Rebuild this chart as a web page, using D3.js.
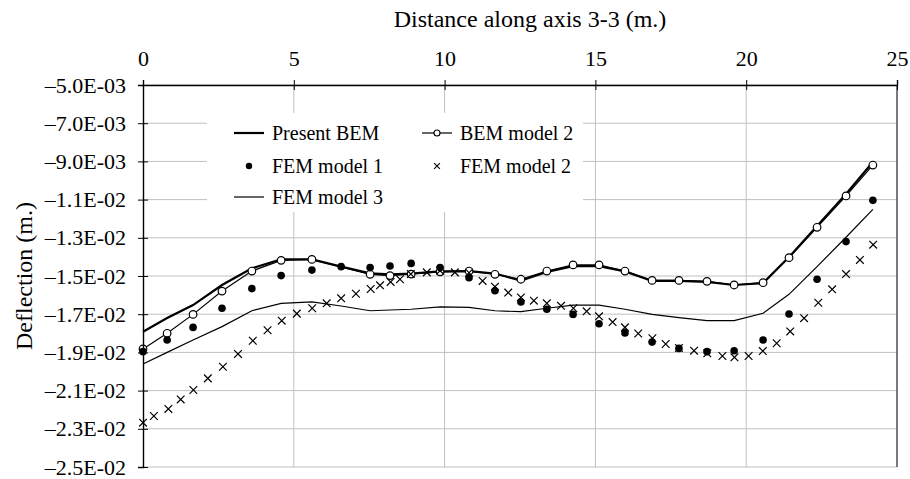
<!DOCTYPE html>
<html>
<head>
<meta charset="utf-8">
<script src="https://cdn.jsdelivr.net/npm/d3@7"></script>
<style>
  body { margin: 0; background: #fff; }
  svg text { font-family: "Liberation Serif", "DejaVu Serif", serif; fill: #000; }
</style>
</head>
<body>
<div id="chart-area"></div>
<script>
// ---- data ----
let xTicks = [0, 5, 10, 15, 20, 25];
let yTicks = [-0.005, -0.007, -0.009, -0.011, -0.013, -0.015, -0.017, -0.019, -0.021, -0.023, -0.025];

// nodes used by BEM / FEM1 / FEM3
let meshX = [0, 0.80, 1.66, 2.62, 3.61, 4.58, 5.60, 6.57, 7.53, 8.19, 8.89, 9.85, 10.81, 11.67, 12.53,
  13.39, 14.26, 15.12, 15.98, 16.88, 17.77, 18.70, 19.60, 20.56, 21.42, 22.35, 23.31, 24.20];

let presentBem = [-0.01792, -0.0172, -0.01652, -0.01547, -0.0146, -0.01413, -0.01413, -0.01451, -0.01486, -0.01492,
  -0.01487, -0.01476, -0.01474, -0.01487, -0.01524, -0.01479, -0.01448, -0.01448, -0.01476, -0.01526,
  -0.01526, -0.01531, -0.01547, -0.01537, -0.01401, -0.01238, -0.01071, -0.00903];

let bemModel2 = [-0.01882, -0.018, -0.01701, -0.01579, -0.01474, -0.01418, -0.01413, null, -0.01491, -0.01498,
  -0.0149, -0.01478, -0.01474, -0.01491, -0.01517, -0.01474, -0.01442, -0.01442, -0.01474, -0.01523,
  -0.01523, -0.01528, -0.01547, -0.01535, -0.01404, -0.01245, -0.01081, -0.00919];

let femModel1 = [-0.01896, -0.01835, -0.01769, -0.01669, -0.01566, -0.01498, -0.01469, -0.01451, -0.01456, -0.01448,
  -0.01434, -0.01456, -0.01509, -0.01577, -0.01636, -0.01674, -0.01701, -0.0175, -0.01798, -0.01846,
  -0.01879, -0.01896, -0.01891, -0.01835, -0.01699, -0.01517, -0.0132, -0.01104];

let femModel3 = [-0.01961, -0.019, -0.01835, -0.01765, -0.01682, -0.01643, -0.01636, -0.01657, -0.01682, -0.01678,
  -0.01674, -0.01662, -0.01664, -0.01682, -0.01687, -0.01669, -0.01652, -0.01653, -0.01674, -0.01701,
  -0.01718, -0.01734, -0.01734, -0.01695, -0.01596, -0.01451, -0.01297, -0.01151];

// FEM model 2 has its own finer mesh
let fem2X = [0, 0.36, 0.84, 1.25, 1.67, 2.15, 2.65, 3.15, 3.64, 4.13, 4.60, 5.10, 5.61, 6.09, 6.57,
  7.06, 7.55, 7.86, 8.21, 8.52, 8.88, 9.41, 9.85, 10.34, 10.81, 11.26, 11.67, 12.11, 12.53, 12.96,
  13.39, 13.86, 14.27, 14.71, 15.12, 15.57, 15.98, 16.42, 16.89, 17.33, 17.77, 18.27, 18.71, 19.21, 19.61,
  20.08, 20.55, 21.01, 21.46, 21.92, 22.39, 22.85, 23.31, 23.77, 24.21];
let femModel2 = [-0.02268, -0.02233, -0.02196, -0.02146, -0.02097, -0.02036, -0.01975, -0.01908, -0.01839, -0.01784,
  -0.01734, -0.01697, -0.01669, -0.01643, -0.01617, -0.01593, -0.01568, -0.01549, -0.01531, -0.01517,
  -0.0149, -0.01481, -0.01472, -0.01481, -0.01483, -0.01526, -0.01556, -0.01587, -0.01612, -0.01629,
  -0.01643, -0.01656, -0.01669, -0.01685, -0.01711, -0.01741, -0.01769, -0.01801, -0.01826, -0.01856,
  -0.01877, -0.01891, -0.01905, -0.01919, -0.01926, -0.01919, -0.01893, -0.01852, -0.0179, -0.01721,
  -0.0164, -0.0157, -0.0149, -0.01416, -0.01336];

// ---- canvas ----
let w = 910;
let h = 479;
let gridColor = "#c0c0c0";
let serif = "'Liberation Serif', 'DejaVu Serif', serif";

let svg = d3.select("#chart-area")
  .append("svg")
  .attr("width", w)
  .attr("height", h)
  .attr("font-family", serif);

// scales
let x = d3.scaleLinear().domain([0, 25]).range([143, 897]);
let y = d3.scaleLinear().domain([-0.005, -0.025]).range([85, 467]);

// gridlines
svg.append("g").selectAll("line")
  .data(yTicks)
  .enter().append("line")
  .attr("x1", x(0)).attr("x2", x(25))
  .attr("y1", d => y(d)).attr("y2", d => y(d))
  .attr("stroke", gridColor).attr("stroke-width", 1);

svg.append("g").selectAll("line")
  .data(xTicks.slice(1, -1))
  .enter().append("line")
  .attr("x1", d => x(d)).attr("x2", d => x(d))
  .attr("y1", y(-0.005)).attr("y2", y(-0.025))
  .attr("stroke", gridColor).attr("stroke-width", 1);

// right border of plot area
svg.append("line")
  .attr("x1", x(25)).attr("x2", x(25))
  .attr("y1", y(-0.005)).attr("y2", y(-0.025))
  .attr("stroke", "#333").attr("stroke-width", 1.3);

// ---- series ----
let mesh = (xs, ys) => xs.map((v, i) => ({x: v, y: ys[i]})).filter(d => d.y !== null);

let line = d3.line().x(d => x(d.x)).y(d => y(d.y));

svg.append("path")
  .datum(mesh(meshX, presentBem))
  .attr("d", line)
  .attr("fill", "none").attr("stroke", "#000").attr("stroke-width", 2.2);

svg.append("path")
  .datum(mesh(meshX, bemModel2))
  .attr("d", line)
  .attr("fill", "none").attr("stroke", "#000").attr("stroke-width", 1.2);

svg.append("g").selectAll("circle")
  .data(mesh(meshX, bemModel2))
  .enter().append("circle")
  .attr("cx", d => x(d.x)).attr("cy", d => y(d.y)).attr("r", 3.8)
  .attr("fill", "#fff").attr("stroke", "#000").attr("stroke-width", 1.2);

svg.append("g").selectAll("circle")
  .data(mesh(meshX, femModel1))
  .enter().append("circle")
  .attr("cx", d => x(d.x)).attr("cy", d => y(d.y)).attr("r", 3.8)
  .attr("fill", "#000");

let cross = d3.symbol().type(d3.symbolX).size(40);
svg.append("g").selectAll("path")
  .data(mesh(fem2X, femModel2))
  .enter().append("path")
  .attr("d", cross)
  .attr("transform", d => "translate(" + x(d.x) + "," + y(d.y) + ")")
  .attr("fill", "none").attr("stroke", "#000").attr("stroke-width", 1.2);

svg.append("path")
  .datum(mesh(meshX, femModel3))
  .attr("d", line)
  .attr("fill", "none").attr("stroke", "#000").attr("stroke-width", 1.2);

// ---- axes ----
let xAxis = svg.append("g")
  .attr("transform", "translate(0," + y(-0.005) + ")")
  .call(d3.axisTop(x).tickValues(xTicks).tickSize(5).tickPadding(14));
xAxis.attr("font-family", serif).attr("font-size", 22);
xAxis.selectAll(".tick line").attr("y1", 5);

let fmtE = function(v) {
  let parts = Math.abs(v).toExponential(1).split("e");
  let e = +parts[1];
  return "\u2013" + parts[0] + "E" + (e < 0 ? "-" : "+") + String(Math.abs(e)).padStart(2, "0");
};

let yAxis = svg.append("g")
  .attr("transform", "translate(" + x(0) + ",0)")
  .call(d3.axisLeft(y).tickValues(yTicks).tickFormat(fmtE).tickSize(5).tickPadding(12));
yAxis.attr("font-family", serif).attr("font-size", 22);
yAxis.selectAll(".tick line").attr("x1", 5);
svg.selectAll(".domain").attr("stroke-width", 1.4);

// axis titles
svg.append("text")
  .attr("x", 530).attr("y", 27)
  .attr("text-anchor", "middle")
  .attr("font-size", 24)
  .text("Distance along axis 3-3 (m.)");

svg.append("text")
  .attr("transform", "translate(32,276) rotate(-90)")
  .attr("text-anchor", "middle")
  .attr("font-size", 24)
  .text("Deflection (m.)");

// ---- legend ----
let legend = svg.append("g");
legend.append("rect")
  .attr("x", 207).attr("y", 113).attr("width", 376).attr("height", 99)
  .attr("fill", "#fff");

let legendItems = [
  {name: "Present BEM", lx: 234, ly: 133, kind: "thick"},
  {name: "BEM model 2", lx: 422, ly: 133, kind: "circle"},
  {name: "FEM model 1", lx: 234, ly: 166, kind: "dot"},
  {name: "FEM model 2", lx: 422, ly: 166, kind: "cross"},
  {name: "FEM model 3", lx: 234, ly: 197, kind: "thin"}
];

legendItems.forEach(function(d) {
  let g = legend.append("g").attr("transform", "translate(" + d.lx + "," + d.ly + ")");
  if (d.kind == "thick" || d.kind == "thin" || d.kind == "circle") {
    g.append("line").attr("x1", 0).attr("x2", 30).attr("y1", 0).attr("y2", 0)
      .attr("stroke", "#000").attr("stroke-width", d.kind == "thick" ? 2.2 : 1.2);
  }
  if (d.kind == "circle") {
    g.append("circle").attr("cx", 15).attr("r", 3)
      .attr("fill", "#fff").attr("stroke", "#000").attr("stroke-width", 1.1);
  }
  if (d.kind == "dot") {
    g.append("circle").attr("cx", 15).attr("r", 3.2).attr("fill", "#000");
  }
  if (d.kind == "cross") {
    g.append("path").attr("d", d3.symbol().type(d3.symbolX).size(24))
      .attr("transform", "translate(15,0)")
      .attr("fill", "none").attr("stroke", "#000").attr("stroke-width", 1.1);
  }
  g.append("text")
    .attr("x", 38).attr("y", 7)
    .attr("font-size", 20)
    .text(d.name);
});
</script>
</body>
</html>
